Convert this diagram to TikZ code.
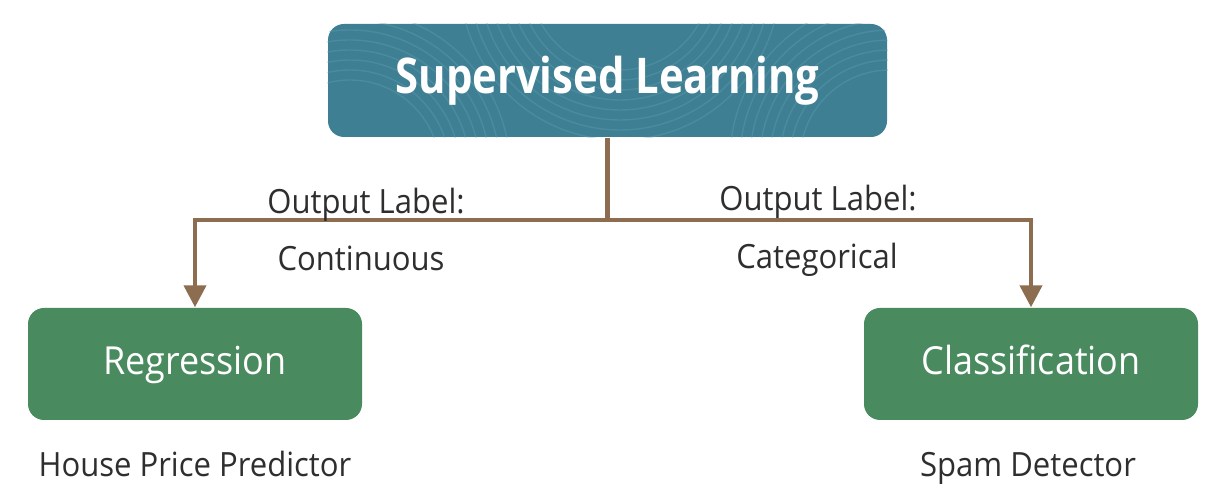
\documentclass[tikz,border=0pt]{standalone}
\usepackage{fontspec}
\setmainfont{Open Sans}
\newfontfamily\titlefont[FakeStretch=0.85]{Open Sans}
\newfontfamily\bodyfont[FakeStretch=0.93]{Open Sans}
\usetikzlibrary{calc, positioning}
\usetikzlibrary{arrows.meta}

\definecolor{topteal}{HTML}{3F7F93}
\definecolor{tealline}{HTML}{5A9AAD}
\definecolor{leafgreen}{HTML}{4A8A5F}
\definecolor{branchbrown}{HTML}{8C6D4F}
\definecolor{labelgray}{HTML}{2E2E2E}

\tikzset{
  topbox/.style={fill=topteal, rounded corners=0.16cm, minimum width=5.59cm, minimum height=1.13cm,
    text=white, font=\titlefont\fontsize{14}{16}\selectfont\bfseries},
  leafbox/.style={fill=leafgreen, rounded corners=0.16cm, minimum width=3.34cm, minimum height=1.12cm,
    text=white, font=\bodyfont\fontsize{11}{13}\selectfont, text height=1.6ex, text depth=0.45ex},
  branch/.style={draw=branchbrown, line width=1.2pt},
  caption/.style={text=labelgray, font=\bodyfont\fontsize{9.5}{11}\selectfont,
    text height=1.6ex, text depth=0.45ex},
}

\begin{document}
\begin{tikzpicture}
\useasboundingbox (0,0) rectangle (12.09,5);

\node[topbox] (Top) at (6.075,4.195) {};
% faint texture in the title box
\begin{scope}
  \clip[rounded corners=0.16cm] (Top.south west) rectangle (Top.north east);
  \foreach \cx/\cy in {3.5/3.3, 6.2/5.2, 8.9/3.4} {
    \foreach \r in {0.9,1.0,...,1.7}
      \draw[tealline, opacity=0.45, line width=0.4pt] (\cx,\cy) circle (\r);
  }
\end{scope}
\node[topbox, fill=none] (TopText) at (Top.center) {Supervised Learning};

\node[leafbox] (Reg) at (1.95,1.36) {Regression};
\node[leafbox] (Cls) at (10.31,1.36) {Classification};
\coordinate (Split) at (6.075,2.80);

\draw[branch] (Top.south) -- (Split);
\draw[branch, -{Triangle[width=0.22cm,length=0.22cm]}] (Split) -| (Reg.north);
\draw[branch, -{Triangle[width=0.22cm,length=0.22cm]}] (Split) -| (Cls.north);

\node[caption] (OutL) at (3.66,2.97) {Output Label:};
\node[caption] (Cont) at (3.61,2.40) {Continuous};
\node[caption] (OutR) at (8.18,3.00) {Output Label:};
\node[caption] (Cat) at (8.17,2.42) {Categorical};

\node[caption] (House) at (1.95,0.34) {House Price Predictor};
\node[caption] (Spam) at (10.28,0.34) {Spam Detector};
\end{tikzpicture}
\end{document}
